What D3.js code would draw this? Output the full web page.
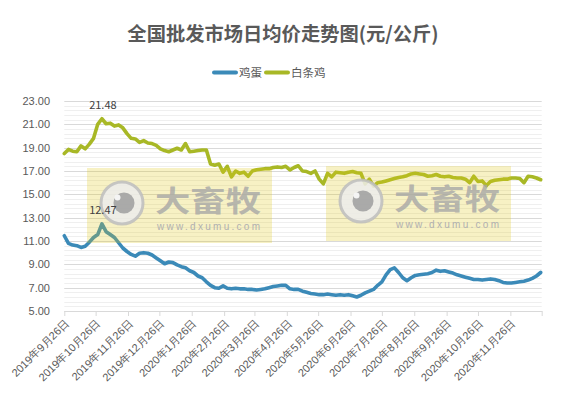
<!DOCTYPE html>
<html>
<head>
<meta charset="utf-8">
<script src="https://cdn.jsdelivr.net/npm/d3@7/dist/d3.min.js"></script>
<style>
  body { margin: 0; background: #fff; }
  svg { display: block; font-family: "Noto Sans CJK SC", "Noto Sans", sans-serif; }
</style>
</head>
<body>
<svg id="chart" width="570" height="393"></svg>
<script>
// sample dates (every 4 days)
var dates = [
  "2019-09-26","2019-09-30","2019-10-04","2019-10-08","2019-10-12","2019-10-16","2019-10-20","2019-10-24","2019-10-28","2019-11-01",
  "2019-11-05","2019-11-09","2019-11-13","2019-11-17","2019-11-21","2019-11-25","2019-11-29","2019-12-03","2019-12-07","2019-12-11",
  "2019-12-15","2019-12-19","2019-12-23","2019-12-27","2019-12-31","2020-01-04","2020-01-08","2020-01-12","2020-01-16","2020-01-20",
  "2020-01-24","2020-01-28","2020-02-01","2020-02-05","2020-02-09","2020-02-13","2020-02-17","2020-02-21","2020-02-25","2020-02-29",
  "2020-03-04","2020-03-08","2020-03-12","2020-03-16","2020-03-20","2020-03-24","2020-03-28","2020-04-01","2020-04-05","2020-04-09",
  "2020-04-13","2020-04-17","2020-04-21","2020-04-25","2020-04-29","2020-05-03","2020-05-07","2020-05-11","2020-05-15","2020-05-19",
  "2020-05-23","2020-05-27","2020-05-31","2020-06-04","2020-06-08","2020-06-12","2020-06-16","2020-06-20","2020-06-24","2020-06-28",
  "2020-07-02","2020-07-06","2020-07-10","2020-07-14","2020-07-18","2020-07-22","2020-07-26","2020-07-30","2020-08-03","2020-08-07",
  "2020-08-11","2020-08-15","2020-08-19","2020-08-23","2020-08-27","2020-08-31","2020-09-04","2020-09-08","2020-09-12","2020-09-16",
  "2020-09-20","2020-09-24","2020-09-28","2020-10-02","2020-10-06","2020-10-10","2020-10-14","2020-10-18","2020-10-22","2020-10-26",
  "2020-10-30","2020-11-03","2020-11-07","2020-11-11","2020-11-15","2020-11-19","2020-11-23","2020-11-27","2020-12-01","2020-12-05",
  "2020-12-09","2020-12-13","2020-12-17","2020-12-21","2020-12-25"
];

// 鸡蛋
var eggValues = [
  11.45,10.8,10.65,10.6,10.45,10.55,10.9,11.3,11.55,12.47,
  11.8,11.55,11.3,10.85,10.4,10.1,9.85,9.7,9.95,10.0,
  9.95,9.8,9.55,9.3,9.05,9.2,9.15,8.95,8.8,8.7,
  8.45,8.3,8.0,7.85,7.5,7.2,7.0,6.95,7.15,6.95,
  6.9,6.95,6.9,6.9,6.85,6.85,6.8,6.85,6.9,7.0,
  7.1,7.15,7.2,7.2,6.9,6.85,6.85,6.7,6.6,6.5,
  6.45,6.4,6.4,6.45,6.4,6.35,6.4,6.35,6.4,6.3,
  6.2,6.35,6.55,6.7,6.85,7.2,7.5,8.1,8.55,8.7,
  8.3,7.85,7.6,7.85,8.05,8.1,8.15,8.2,8.3,8.5,
  8.4,8.45,8.35,8.25,8.1,8.0,7.9,7.8,7.7,7.7,
  7.65,7.7,7.75,7.7,7.6,7.45,7.4,7.4,7.45,7.5,
  7.55,7.65,7.8,8.0,8.3
];

// 白条鸡
var chickenValues = [
  18.5,18.85,18.7,18.65,19.15,18.9,19.3,19.8,21.0,21.48,
  21.05,21.1,20.85,20.95,20.7,20.2,19.8,19.75,19.45,19.6,
  19.4,19.35,19.2,18.9,18.75,18.65,18.8,18.95,18.8,19.35,
  18.65,18.7,18.75,18.8,18.8,17.6,17.5,17.6,16.9,17.4,
  16.5,17.0,16.8,16.9,16.55,17.0,17.1,17.15,17.2,17.2,
  17.3,17.35,17.3,17.4,17.1,17.3,17.45,17.0,16.95,16.8,
  17.0,16.3,15.9,16.8,16.5,16.9,16.85,16.8,16.9,16.95,
  16.85,16.8,15.9,16.3,15.7,16.0,16.05,16.15,16.25,16.35,
  16.45,16.5,16.6,16.75,16.8,16.75,16.7,16.55,16.6,16.7,
  16.55,16.5,16.55,16.45,16.4,16.4,16.3,16.0,16.55,16.1,
  16.15,15.75,16.1,16.2,16.25,16.3,16.3,16.4,16.4,16.35,
  16.0,16.55,16.5,16.4,16.25
];

var seriesNames = ["鸡蛋", "白条鸡"];
var yTicks = [5, 7, 9, 11, 13, 15, 17, 19, 21, 23];
var tickDates = [
  "2019-09-26","2019-10-26","2019-11-26","2019-12-26","2020-01-26","2020-02-26","2020-03-26","2020-04-26",
  "2020-05-26","2020-06-26","2020-07-26","2020-08-26","2020-09-26","2020-10-26","2020-11-26","2020-12-26"
];
var tickLabels = [
  "2019年9月26日","2019年10月26日","2019年11月26日","2019年12月26日","2020年1月26日","2020年2月26日",
  "2020年3月26日","2020年4月26日","2020年5月26日","2020年6月26日","2020年7月26日","2020年8月26日",
  "2020年9月26日","2020年10月26日","2020年11月26日",""
];

var parse = d3.timeParse("%Y-%m-%d");
var colors = ["#3b8ab8", "#a8b826"];
var textColor = "#595959";

var svg = d3.select("#chart");

var x = d3.scaleTime()
  .domain([parse("2019-09-26"), parse("2020-12-26")])
  .range([64.3, 541.7]);
var y = d3.scaleLinear().domain([5, 23]).range([311, 101]);

// minor gridlines then major ones
var minor = d3.range(5.4, 23, 0.4);
svg.append("g").selectAll("line").data(minor).enter().append("line")
  .attr("x1", x.range()[0]).attr("x2", x.range()[1])
  .attr("y1", function(d) { return Math.round(y(d)) + 0.5; })
  .attr("y2", function(d) { return Math.round(y(d)) + 0.5; })
  .attr("stroke", "#efefef").attr("stroke-width", 1);

svg.append("g").selectAll("line").data(yTicks).enter().append("line")
  .attr("x1", x.range()[0]).attr("x2", x.range()[1])
  .attr("y1", function(d) { return Math.round(y(d)) + 0.5; })
  .attr("y2", function(d) { return Math.round(y(d)) + 0.5; })
  .attr("stroke", "#d9d9d9").attr("stroke-width", 1);

// y axis labels
var yAxis = svg.append("g")
  .attr("transform", "translate(64,0)")
  .call(d3.axisLeft(y).tickValues(yTicks).tickFormat(d3.format(".2f")).tickSize(0).tickPadding(14));
yAxis.select(".domain").remove();
yAxis.selectAll("text").attr("fill", textColor).style("font-size", "11px");

// x axis
var xAxis = svg.append("g")
  .attr("transform", "translate(0,311)")
  .call(d3.axisBottom(x).tickValues(tickDates.map(parse))
    .tickFormat(function(d, i) { return tickLabels[i]; })
    .tickSize(5).tickSizeOuter(0));
xAxis.select(".domain").attr("stroke", "#d9d9d9");
xAxis.selectAll(".tick line").attr("stroke", "#d9d9d9");
xAxis.selectAll("text")
  .attr("fill", textColor)
  .style("font-size", "11px")
  .attr("text-anchor", "end")
  .attr("y", 0).attr("dy", 0)
  .attr("transform", "translate(5,13) rotate(-45)");

// lines
var line = d3.line()
  .x(function(d) { return x(d.date); })
  .y(function(d) { return y(d.value); });

[eggValues, chickenValues].forEach(function(vals, k) {
  var pts = vals.map(function(v, i) { return { date: parse(dates[i]), value: v }; });
  svg.append("path")
    .datum(pts)
    .attr("fill", "none")
    .attr("stroke", colors[k])
    .attr("stroke-width", 3.6)
    .attr("stroke-linejoin", "round")
    .attr("stroke-linecap", "round")
    .attr("d", line);
});

// watermarks (drawn over the lines, semi transparent)
function watermark(ox, oy) {
  var g = svg.append("g").attr("transform", "translate(" + ox + "," + oy + ")");
  g.append("rect").attr("width", 185).attr("height", 75)
    .attr("fill", "rgb(225,200,20)").attr("opacity", 0.25);
  g.append("circle").attr("cx", 35).attr("cy", 35).attr("r", 21)
    .attr("fill", "#ececec").attr("fill-opacity", 0.85)
    .attr("stroke", "#bdbdbd").attr("stroke-width", 3).attr("stroke-opacity", 0.85);
  g.append("circle").attr("cx", 37).attr("cy", 35).attr("r", 10.5)
    .attr("fill", "#a2a2a2").attr("opacity", 0.9);
  g.append("circle").attr("cx", 30.5).attr("cy", 29.5).attr("r", 3)
    .attr("fill", "#f4f4f4");
  g.append("text").attr("x", 68).attr("y", 44)
    .attr("textLength", 106).attr("lengthAdjust", "spacingAndGlyphs")
    .attr("fill", "#a6a6a6").attr("fill-opacity", 0.8)
    .style("font-size", "29px").style("font-weight", "bold")
    .text("大畜牧");
  g.append("text").attr("x", 70).attr("y", 62)
    .attr("textLength", 103).attr("lengthAdjust", "spacing")
    .attr("fill", "#b0b0b0")
    .style("font-family", "'Liberation Sans', sans-serif")
    .style("font-size", "10px")
    .text("www.dxumu.com");
}
watermark(87, 168);
watermark(326, 166);

// peak labels, on top of the watermark
function labelMax(vals) {
  var i = d3.maxIndex(vals);
  svg.append("text")
    .attr("x", x(parse(dates[i])) + 1)
    .attr("y", y(vals[i]) - 10)
    .attr("text-anchor", "middle")
    .attr("fill", "#404040")
    .style("font-size", "11px")
    .text(d3.format(".2f")(vals[i]));
}
labelMax(chickenValues);
labelMax(eggValues);

// title
svg.append("text")
  .attr("x", 283).attr("y", 41)
  .attr("text-anchor", "middle")
  .attr("fill", textColor)
  .style("font-size", "19.3px").style("font-weight", "bold")
  .text("全国批发市场日均价走势图(元/公斤)");

// legend
var legendX = [212, 264];
seriesNames.forEach(function(name, k) {
  svg.append("line")
    .attr("x1", legendX[k] + 2).attr("x2", legendX[k] + 24)
    .attr("y1", 72.5).attr("y2", 72.5)
    .attr("stroke", colors[k]).attr("stroke-width", 4).attr("stroke-linecap", "round");
  svg.append("text")
    .attr("x", legendX[k] + 27).attr("y", 77)
    .attr("fill", textColor)
    .style("font-size", "11.5px")
    .text(name);
});
</script>
</body>
</html>
